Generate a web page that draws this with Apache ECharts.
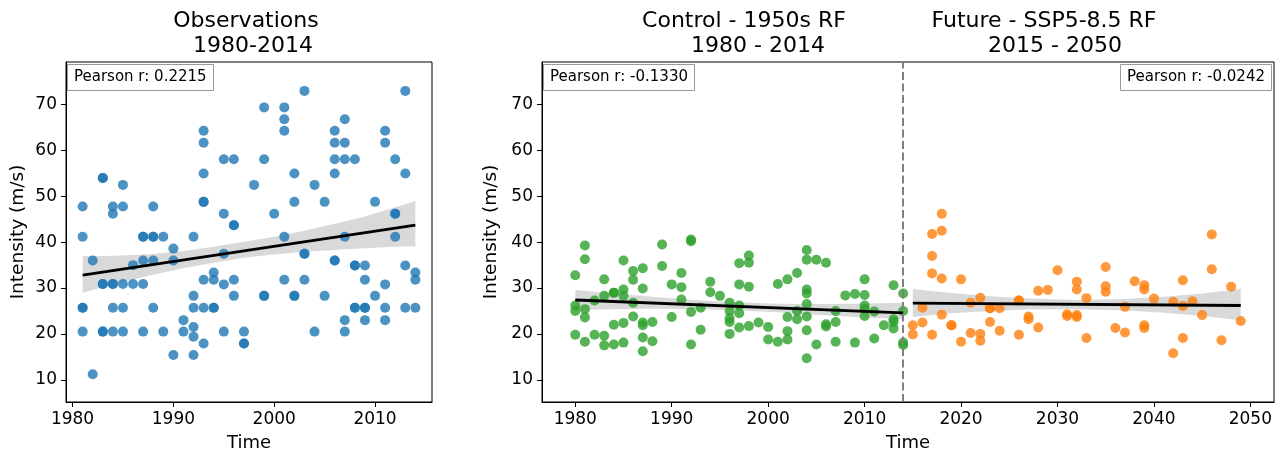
<!DOCTYPE html>
<html><head><meta charset="utf-8">
<script src="https://cdn.jsdelivr.net/npm/echarts/dist/echarts.min.js"></script>
<style>html,body{margin:0;padding:0;background:#fff}#c{width:1285px;height:457px}</style>
</head><body><div id="c"></div>
<script>
// ---------- Observations (blue) ----------
const obsYear = [1981,1981,1981,1981,1981, 1982,1982, 1983,1983,1983,1983,1983,1983,
 1984,1984,1984,1984,1984,1984, 1985,1985,1985,1985,1985, 1986,1986,
 1987,1987,1987,1987,1987, 1988,1988,1988,1988,1988, 1989,1989, 1990,1990,1990, 1991,1991,
 1992,1992,1992,1992,1992,1992, 1993,1993,1993,1993,1993,1993,1993,1993,
 1994,1994,1994,1994, 1995,1995,1995,1995,1995, 1996,1996,1996,1996,1996,
 1997,1997,1997, 1998, 1999,1999,1999,1999, 2000, 2001,2001,2001,2001,2001,
 2002,2002,2002,2002, 2003,2003,2003,2003, 2004,2004, 2005,2005,
 2006,2006,2006,2006,2006,2006, 2007,2007,2007,2007,2007,2007,
 2008,2008,2008,2008,2008, 2009,2009,2009,2009,2009, 2010,2010,
 2011,2011,2011,2011,2011, 2012,2012,2012,2012, 2013,2013,2013,2013, 2014,2014,2014];
const obsVal = [47.8,41.2,25.7,25.7,20.5, 36.0,11.2, 54.0,54.0,30.9,30.9,20.5,20.5,
 47.8,46.2,30.9,30.9,25.7,20.5, 52.5,47.8,30.9,25.7,20.5, 35.0,30.9,
 41.2,41.2,36.0,30.9,20.5, 47.8,41.2,41.2,36.0,25.7, 41.2,20.5, 38.6,36.0,15.4, 23.0,20.5,
 41.2,28.3,25.7,21.5,19.4,15.4, 64.3,61.7,55.0,48.8,48.8,31.8,25.7,17.9,
 33.4,31.8,25.7,25.7, 58.1,46.2,37.5,30.8,20.5, 58.1,43.7,43.7,31.8,28.3,
 20.5,17.9,17.9, 52.5, 69.4,58.1,28.3,28.3, 46.2, 69.4,66.8,64.3,41.2,31.8,
 55.0,48.8,28.3,28.3, 73.0,37.5,37.5,31.8, 52.5,20.5, 48.8,28.3,
 64.3,61.7,58.1,55.0,36.0,36.0, 66.8,61.7,58.1,41.2,23.0,20.5,
 58.1,34.9,34.9,25.7,25.7, 34.9,31.8,25.7,25.7,23.0, 48.8,28.3,
 64.3,61.7,30.8,25.7,23.0, 58.1,46.2,46.2,41.2, 73.0,55.0,34.9,25.7, 33.4,31.8,25.7];
const obsFitX = [1981, 2014];
const obsFitY = [32.8, 43.7];
const obsBandX  = [1981, 1983, 1985, 1988, 1991, 1994, 1997, 2000, 2003, 2006, 2009, 2012, 2014];
const obsBandLo = [29.0, 30.2, 31.3, 32.9, 34.3, 35.5, 36.6, 37.3, 37.9, 38.3, 38.7, 39.0, 39.1];
const obsBandHi = [37.0, 37.0, 37.1, 37.4, 38.1, 39.0, 40.1, 41.2, 42.5, 44.0, 45.6, 47.6, 49.0];

// ---------- Control (green) ----------
const ctlYear = [1980,1980,1980,1980, 1981,1981,1981,1981,1981, 1982,1982, 1983,1983,1983,1983,
 1984,1984,1984,1984, 1985,1985,1985,1985,1985, 1986,1986,1986,1986,
 1987,1987,1987,1987,1987,1987, 1988,1988, 1989,1989, 1990,1990, 1991,1991,1991,
 1992,1992,1992,1992, 1993,1993, 1994,1994, 1995, 1996,1996,1996,1996,1996,
 1997,1997,1997,1997,1997, 1998,1998,1998,1998, 1999, 2000,2000, 2001,2001,
 2002,2002,2002,2002, 2003,2003,2003, 2004,2004,2004,2004,2004,2004,2004,2004,
 2005,2005, 2006,2006,2006, 2007,2007,2007, 2008, 2009,2009,
 2010,2010,2010,2010,2010, 2011,2011, 2012, 2013,2013,2013,2013, 2014,2014,2014,2014];
const ctlVal = [32.8,26.2,25.0,19.8, 39.3,36.3,25.4,23.6,18.3, 27.3,19.8, 31.9,28.3,19.6,17.5,
 29.0,29.0,22.0,17.7, 36.0,29.7,28.3,22.4,18.1, 33.7,31.8,26.8,23.8,
 34.3,29.9,22.5,21.9,19.2,16.2, 22.6,18.4, 39.5,34.8, 30.8,23.7, 33.3,30.2,27.5,
 40.6,40.2,24.8,17.7, 25.7,20.9, 31.4,29.1, 28.3, 26.8,25.0,23.4,22.6,20.0,
 35.4,30.8,26.2,24.5,21.4, 37.1,35.5,30.3,21.7, 22.5, 21.5,18.8, 30.9,18.3,
 31.9,23.7,20.6,18.8, 33.3,25.0,23.2, 38.3,36.2,29.7,28.8,26.5,23.8,20.8,14.7,
 36.2,17.7, 35.5,22.1,21.6, 25.0,22.6,18.3, 28.4, 28.7,18.1,
 31.9,28.5,26.2,25.5,23.9, 24.9,19.0, 21.9, 30.6,23.2,22.6,21.2, 28.8,25.0,18.1,17.6];
const ctlFitX = [1980, 2014];
const ctlFitY = [27.4, 24.6];
const ctlBandX  = [1980, 1984, 1988, 1993, 1997, 2001, 2005, 2009, 2014];
const ctlBandLo = [25.2, 25.4, 25.5, 25.4, 25.1, 24.7, 24.2, 23.7, 23.2];
const ctlBandHi = [29.6, 28.8, 28.1, 27.3, 26.9, 26.6, 26.5, 26.6, 26.8];

// ---------- Future (orange) ----------
const futYear = [2015,2015, 2016,2016, 2017,2017,2017,2017, 2018,2018,2018,2018, 2019,2019,
 2020,2020, 2021,2021, 2022,2022,2022, 2023,2023,2023, 2024,2024, 2026,2026,2026,
 2027,2027, 2028,2028, 2029, 2030, 2031,2031, 2032,2032,2032,2032, 2033,2033,
 2035,2035,2035, 2036, 2037,2037, 2038, 2039,2039,2039,2039, 2040, 2042,2042,
 2043,2043,2043, 2044, 2045, 2046,2046, 2047, 2048, 2049];
const futVal = [21.9,19.9, 25.7,22.5, 41.8,37.0,33.2,19.8, 46.2,42.5,32.1,24.2, 21.9,21.9,
 31.9,18.3, 26.8,20.2, 27.9,20.0,18.5, 25.6,25.6,22.6, 25.6,20.7, 27.3,27.3,19.8,
 23.8,23.2, 29.4,21.4, 29.6, 33.9, 24.3,23.9, 31.4,29.7,24.1,23.7, 27.8,19.1,
 34.6,30.4,29.2, 21.3, 25.9,20.3, 31.5, 30.6,29.7,21.9,21.3, 27.7, 27.0,15.8,
 31.7,26.1,19.1, 27.1, 24.1, 41.7,34.1, 18.6, 30.3, 22.8];
const futFitX = [2015, 2049];
const futFitY = [26.7, 26.2];
const futBandX  = [2015, 2019, 2023, 2027, 2032, 2037, 2041, 2045, 2049];
const futBandLo = [23.7, 24.5, 25.0, 25.3, 25.4, 25.1, 24.6, 23.9, 23.0];
const futBandHi = [29.8, 28.9, 28.2, 27.7, 27.4, 27.6, 28.1, 28.8, 29.8];

// ---------- Text ----------
const yTicks = [10, 20, 30, 40, 50, 60, 70];
const xTicksLeft = [1980, 1990, 2000, 2010];
const xTicksRight = [1980, 1990, 2000, 2010, 2020, 2030, 2040, 2050];
const splitYear = 2014;
const pearson = ['Pearson r: 0.2215', 'Pearson r: -0.1330', 'Pearson r: -0.0242'];
const titles = [['Observations', '1980-2014'], ['Control - 1950s RF', '1980 - 2014'], ['Future - SSP5-8.5 RF', '2015 - 2050']];
const yLabel = 'Intensity (m/s)';
const xLabel = 'Time';

const FONT = 'DejaVu Sans';
const pairs = (xs, ys) => xs.map((x, i) => [x, ys[i]]);
const plain = v => String(v);

function xAxisCfg(gi, min, max, ticks) {
  return {
    type: 'value', gridIndex: gi, min: min, max: max,
    splitLine: {show: false},
    axisLine: {show: true, onZero: false, lineStyle: {color: '#000', width: 1}},
    axisTick: {show: true, length: 5, lineStyle: {color: '#000', width: 1}, customValues: ticks},
    axisLabel: {customValues: ticks, formatter: plain, color: '#000', fontFamily: FONT, fontSize: 17, margin: 9},
    name: xLabel, nameLocation: 'middle', nameGap: 32,
    nameTextStyle: {fontFamily: FONT, fontSize: 18, color: '#000'}
  };
}
function yAxisCfg(gi) {
  return {
    type: 'value', gridIndex: gi, min: 5.15, max: 79.3,
    splitLine: {show: false},
    axisLine: {show: true, onZero: false, lineStyle: {color: '#000', width: 1}},
    axisTick: {show: true, length: 5, lineStyle: {color: '#000', width: 1}, customValues: yTicks},
    axisLabel: {customValues: yTicks, formatter: plain, color: '#000', fontFamily: FONT, fontSize: 17, margin: 9},
    name: yLabel, nameLocation: 'middle', nameGap: 38, nameRotate: 90,
    nameTextStyle: {fontFamily: FONT, fontSize: 18.5, color: '#000'}
  };
}
function scatter(gi, xs, ys, color) {
  return {type: 'scatter', xAxisIndex: gi, yAxisIndex: gi, data: pairs(xs, ys),
    symbolSize: 10, itemStyle: {color: color, opacity: 0.8}, z: 3, silent: true};
}
function fitLine(gi, xs, ys) {
  return {type: 'line', xAxisIndex: gi, yAxisIndex: gi, data: pairs(xs, ys), symbol: 'none',
    lineStyle: {color: '#000', width: 2.8}, z: 4, silent: true};
}
function band(gi, xs, lo, hi) {
  return {type: 'custom', xAxisIndex: gi, yAxisIndex: gi, silent: true, z: 2,
    data: xs.map((x, i) => [x, lo[i], hi[i]]),
    encode: {x: 0, y: [1, 2]},
    renderItem: function (params, api) {
      if (params.dataIndex !== 0) return null;
      const pts = [];
      for (let i = 0; i < xs.length; i++) pts.push(api.coord([xs[i], hi[i]]));
      for (let i = xs.length - 1; i >= 0; i--) pts.push(api.coord([xs[i], lo[i]]));
      return {type: 'polygon', shape: {points: pts}, style: {fill: 'rgba(0,0,0,0.15)'}};
    }};
}
function boxTitle(text, pos) {
  return Object.assign({text: text, padding: [4, 7], borderColor: '#999', borderWidth: 1, backgroundColor: '#fff',
    textStyle: {fontFamily: FONT, fontSize: 15, fontWeight: 'normal', color: '#000', lineHeight: 19}}, pos);
}
function headText(x, y, t) {
  return {type: 'text', x: x, y: y, style: {text: t, font: '22px "DejaVu Sans"', fill: '#000', textAlign: 'center', textVerticalAlign: 'middle'}};
}

const chart = echarts.init(document.getElementById('c'), null, {renderer: 'canvas'});
const ctlScatter = scatter(1, ctlYear, ctlVal, '#2ca02c');
ctlScatter.markLine = {symbol: 'none', silent: true, label: {show: false},
  lineStyle: {color: '#808080', type: [8, 3.5], width: 2}, data: [{xAxis: splitYear}]};

chart.setOption({
  animation: false,
  backgroundColor: '#fff',
  title: [
    boxTitle(pearson[0], {left: 67, top: 64}),
    boxTitle(pearson[1], {left: 543, top: 64}),
    boxTitle(pearson[2], {right: 13, top: 64})
  ],
  grid: [
    {left: 66, top: 62, width: 366, height: 341, show: true, borderColor: '#000', borderWidth: 1, backgroundColor: 'transparent'},
    {left: 542, top: 62, width: 732, height: 341, show: true, borderColor: '#000', borderWidth: 1, backgroundColor: 'transparent'}
  ],
  xAxis: [xAxisCfg(0, 1979.35, 2015.65, xTicksLeft), xAxisCfg(1, 1976.55, 2052.45, xTicksRight)],
  yAxis: [yAxisCfg(0), yAxisCfg(1)],
  series: [
    band(0, obsBandX, obsBandLo, obsBandHi),
    scatter(0, obsYear, obsVal, '#1f77b4'),
    fitLine(0, obsFitX, obsFitY),
    band(1, ctlBandX, ctlBandLo, ctlBandHi),
    ctlScatter,
    fitLine(1, ctlFitX, ctlFitY),
    band(1, futBandX, futBandLo, futBandHi),
    scatter(1, futYear, futVal, '#ff7f0e'),
    fitLine(1, futFitX, futFitY)
  ],
  graphic: [
    headText(246, 21, titles[0][0]), headText(253, 46, titles[0][1]),
    headText(744, 21, titles[1][0]), headText(758, 46, titles[1][1]),
    headText(1044, 21, titles[2][0]), headText(1055, 46, titles[2][1])
  ]
});
</script></body></html>
